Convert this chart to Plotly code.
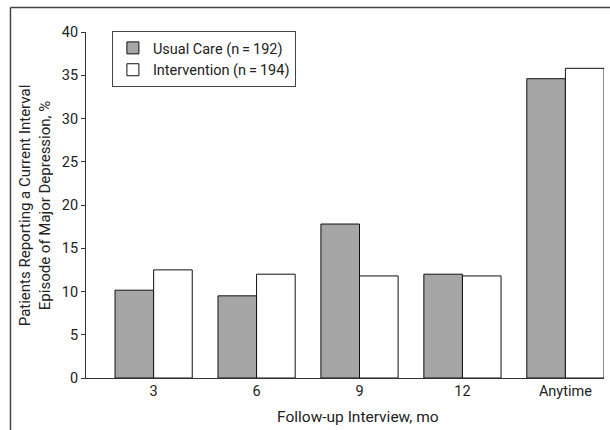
import plotly.graph_objects as go

categories = ["3", "6", "9", "12", "Anytime"]
usual_care = [10.15, 9.5, 17.8, 12.0, 34.6]
intervention = [12.5, 12.0, 11.8, 11.8, 35.8]
y_ticks = [0, 5, 10, 15, 20, 25, 30, 35, 40]

FONT = "Roboto, Liberation Sans, sans-serif"
AX = "#333333"
FS = 14.5

fig = go.Figure()
fig.add_trace(go.Bar(
    x=categories, y=usual_care, name="Usual Care (n\u2009=\u2009192)",
    marker=dict(color="#a6a6a6", line=dict(color="#111111", width=1)),
))
fig.add_trace(go.Bar(
    x=categories, y=intervention, name="Intervention (n\u2009=\u2009194)",
    marker=dict(color="#ffffff", line=dict(color="#111111", width=1)),
))

fig.update_layout(
    width=610, height=430,
    margin=dict(l=86, r=6, t=32, b=52),
    paper_bgcolor="white", plot_bgcolor="white",
    barmode="group", bargap=0.25, bargroupgap=0,
    font=dict(family=FONT, size=FS, color="#222222"),
    showlegend=True,
    legend=dict(
        x=0.05, y=1.003, xanchor="left", yanchor="top",
        bordercolor="#444444", borderwidth=1, bgcolor="white",
        font=dict(size=FS), tracegroupgap=0, itemwidth=30,
    ),
    xaxis=dict(
        type="category", range=[-0.657, 4.375],
        showline=True, linecolor=AX, linewidth=1,
        ticks="", showgrid=False, zeroline=False,
        tickfont=dict(size=FS),
    ),
    yaxis=dict(
        range=[0, 40], tickvals=y_ticks,
        showline=True, linecolor=AX, linewidth=1,
        ticks="outside", ticklen=4, tickcolor=AX,
        showgrid=False, zeroline=False,
        tickfont=dict(size=FS),
    ),
    annotations=[
        dict(text="Follow-up Interview, mo", xref="paper", yref="paper",
             x=0.525, y=-0.113, xanchor="center", yanchor="middle",
             showarrow=False, font=dict(size=15.5)),
        dict(text="Patients Reporting a Current Interval<br>Episode of Major Depression, %",
             xref="paper", yref="paper", x=-0.098, y=0.5, xanchor="center", yanchor="middle",
             textangle=-90, showarrow=False, font=dict(size=15)),
    ],
    shapes=[
        dict(type="line", xref="paper", yref="paper", x0=-0.1458, x1=-0.1458,
             y0=-0.2, y1=1.0709, line=dict(color="#444444", width=1.5)),
        dict(type="line", xref="paper", yref="paper", x0=-0.1458, x1=1.1,
             y0=1.0709, y1=1.0709, line=dict(color="#444444", width=1.5)),
    ],
)

fig.write_html("out.html", config={"displayModeBar": False},
               post_script="document.body.style.margin='0';")
